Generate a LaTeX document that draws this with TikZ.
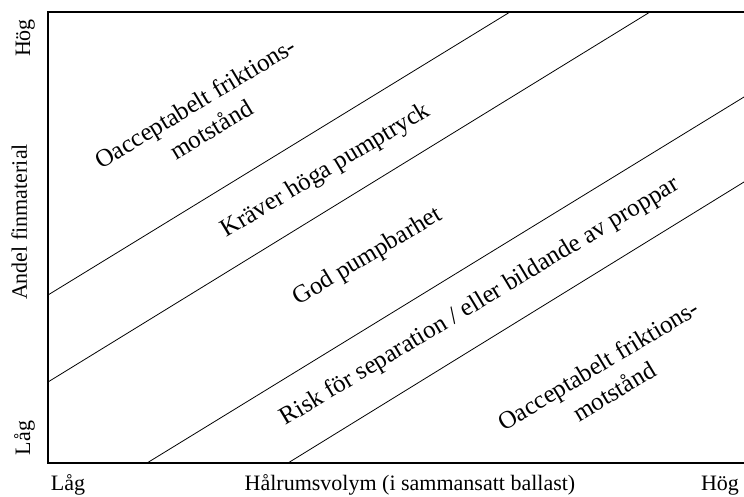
\documentclass[tikz,border=0pt]{standalone}
\usepackage{fontspec}
\setmainfont{Liberation Serif}
\usetikzlibrary{positioning}

\begin{document}
\begin{tikzpicture}[x=1pt, y=-1pt,
		zone/.style={rotate=31, align=center, inner sep=0pt, font=\fontsize{25}{31}\selectfont},
		axis/.style={anchor=base, inner sep=0pt, font=\fontsize{22}{26}\selectfont},
		border/.style={line width=2.2pt, line cap=rect},
		limit/.style={line width=0.8pt}]
		\useasboundingbox (0,0) rectangle (744,497);
		% frame, open to the right
		\coordinate	(TR)	at (744,12);
		\coordinate	(TL)	at (48,12);
		\coordinate	(BL)	at (48,463);
		\coordinate	(BR)	at (744,463);
		\draw[border]	(TR) -- (TL) -- (BL) -- (BR);
		% limits between the zones
		\coordinate	(L1a)	at (48,295);
		\coordinate	(L1b)	at (510,12);
		\coordinate	(L2a)	at (48,382);
		\coordinate	(L2b)	at (650,12);
		\coordinate	(L3a)	at (147,463);
		\coordinate	(L3b)	at (744,97);
		\coordinate	(L4a)	at (288,463);
		\coordinate	(L4b)	at (744,182);
		\draw[limit]	(L1a) -- (L1b);
		\draw[limit]	(L2a) -- (L2b);
		\draw[limit]	(L3a) -- (L3b);
		\draw[limit]	(L4a) -- (L4b);
		% zones
		\node[zone]	(fric1)	at (203,116)	{Oacceptabelt friktions-\\motstånd};
		\node[zone]	(tryck)	at (326,171)	{Kräver höga pumptryck};
		\node[zone]	(god)	at (368,257)	{God pumpbarhet};
		\node[zone]	(risk)	at (480,302)	{Risk för separation / eller bildande av proppar};
		\node[zone]	(fric2)	at (606,378)	{Oacceptabelt friktions-\\motstånd};
		% axes
		\node[axis]	(xlow)	at (68,490)	{Låg};
		\node[axis]	(xname)	at (410,490)	{Hålrumsvolym (i sammansatt ballast)};
		\node[axis]	(xhigh)	at (720,490)	{Hög};
		\node[axis, rotate=90]	(yhigh)	at (30,38)	{Hög};
		\node[axis, rotate=90]	(yname)	at (27,222)	{Andel finmaterial};
		\node[axis, rotate=90]	(ylow)	at (30,438)	{Låg};
	\end{tikzpicture}
\end{document}
